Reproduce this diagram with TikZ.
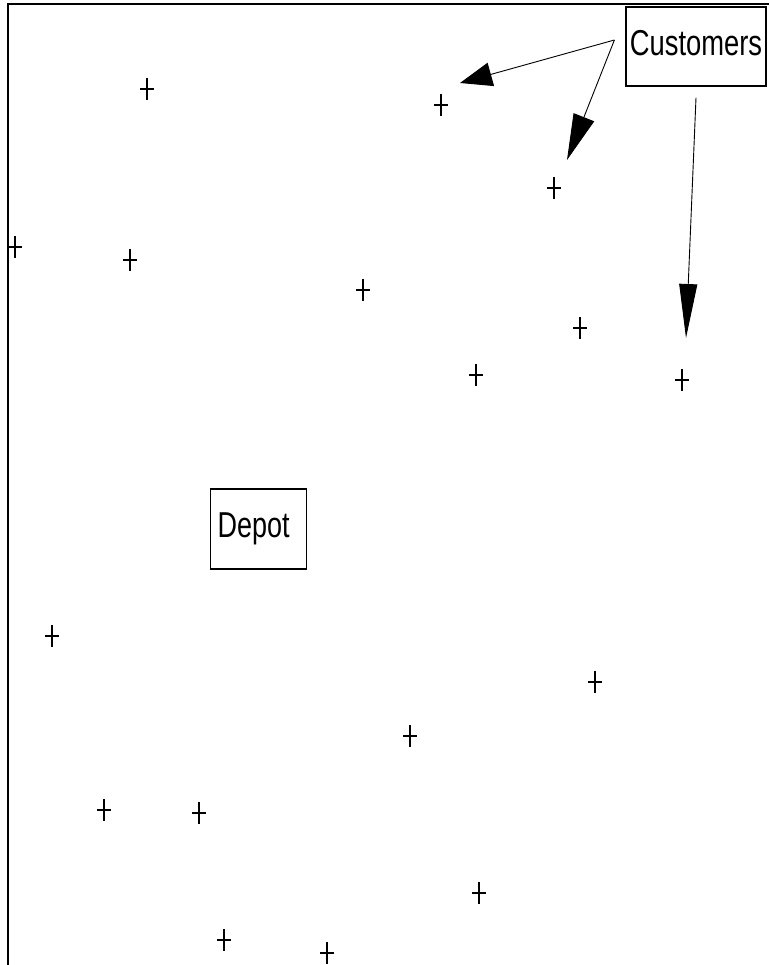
\documentclass[tikz,border=0pt]{standalone}
\usepackage{fontspec}
\setmainfont{Liberation Sans}
\usetikzlibrary{arrows.meta}

\tikzset{
  label box/.style={draw,line width=1.2pt,inner sep=0pt,font=\fontsize{36}{36}\selectfont},
  pointer/.style={line width=0.9pt},
  site/.style={line width=1.3pt}
}

\begin{document}
\begin{tikzpicture}[x=1pt,y=-1pt]
\useasboundingbox (0,0) rectangle (769,965);
% frame
\draw[line width=2pt] (7.5,965) -- (7.5,4.5) -- (769,4.5);
% labels
\node[label box,minimum width=140pt,minimum height=79pt] (cust) at (696,46.5) {\raisebox{6.5pt}{\scalebox{0.76}[1]{Customers}}};
\node[label box,minimum width=96pt,minimum height=80pt] (depot) at (258.7,529) {\hspace*{-10pt}\scalebox{0.75}[1]{Depot}};
% customer sites
\foreach \px/\py in {147/89, 441/105, 554/188, 15/247, 130/260, 363/290, 580/328, 476/375, 682/380,
  52/636, 595/682, 410/736, 104/810, 199/813, 479/893, 224/940, 327/953}
  \draw[site] (\px-7,\py) -- (\px+7,\py) (\px,\py-11) -- (\px,\py+11);
% arrows
\coordinate (tip a) at (460,83);
\coordinate (tip b) at (567,160);
\coordinate (tip c) at (686,338);
\draw[pointer,-{Triangle[length=32pt,width=24pt]}] ([xshift=-11pt,yshift=6.5pt]cust.west) -- (tip a);
\draw[pointer,-{Triangle[length=46pt,width=22pt]}] ([xshift=-11pt,yshift=6.5pt]cust.west) -- (tip b);
\draw[pointer,-{Triangle[length=54pt,width=18pt]}] ([yshift=-11pt]cust.south) -- (tip c);
\end{tikzpicture}
\end{document}
